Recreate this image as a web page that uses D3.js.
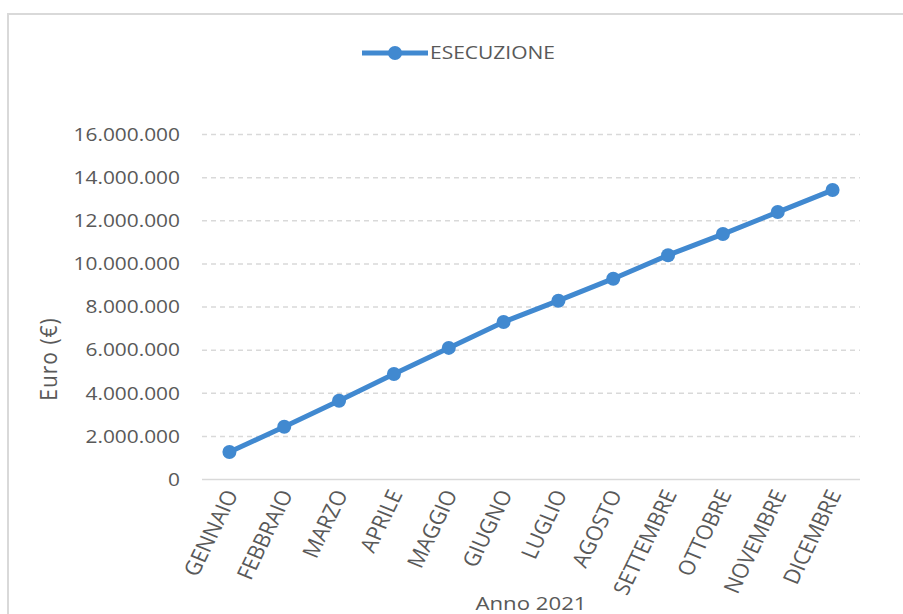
<!DOCTYPE html>
<meta charset="utf-8">
<style>
body { margin: 0; background: #fff; }
svg { display: block; }
text { font-family: "Open Sans", sans-serif; fill: #595959; }
.grid line { stroke: #d9d9d9; stroke-width: 1.5px; stroke-dasharray: 5,4; }
.grid .domain { display: none; }
.xaxis .domain, .xaxis line { display: none; }
.line { fill: none; stroke: #4189d0; stroke-width: 5px; stroke-linejoin: round; }
.dot { fill: #4189d0; }
</style>
<svg width="903" height="614"></svg>
<script src="https://cdnjs.cloudflare.com/ajax/libs/d3/7.8.5/d3.min.js"></script>
<script>
var months = ["GENNAIO", "FEBBRAIO", "MARZO", "APRILE", "MAGGIO", "GIUGNO",
              "LUGLIO", "AGOSTO", "SETTEMBRE", "OTTOBRE", "NOVEMBRE", "DICEMBRE"];
var esecuzione = [1250000, 2420000, 3630000, 4870000, 6080000, 7280000,
                  8270000, 9290000, 10380000, 11360000, 12380000, 13400000];
var yTicks = [0, 2000000, 4000000, 6000000, 8000000, 10000000, 12000000, 14000000, 16000000];
var seriesName = "ESECUZIONE";

var svg = d3.select("svg");
var stretch = 1.2; // the source picture is a bit wider than tall

// chart area border
svg.append("rect")
    .attr("x", 8).attr("y", 14)
    .attr("width", 1000).attr("height", 1000)
    .attr("fill", "none")
    .attr("stroke", "#d9d9d9")
    .attr("stroke-width", 2);

var x = d3.scaleBand().domain(months).range([202, 860]);
var y = d3.scaleLinear().domain([0, 16000000]).range([479, 134]);

var fmt = function(v) { return d3.format(",")(v).replace(/,/g, "."); };

// gridlines + y labels
var grid = svg.append("g")
    .attr("class", "grid")
    .attr("transform", "translate(202,0)")
    .call(d3.axisLeft(y).tickValues(yTicks).tickSize(-658).tickFormat(fmt));

grid.selectAll(".tick line")
    .style("stroke-dasharray", function(d) { return d === 0 ? "none" : null; });

grid.selectAll(".tick text")
    .attr("x", 0)
    .attr("dy", "0.35em")
    .attr("transform", "translate(-22,0) scale(1.16,1)")
    .style("font-size", "18px")
    .style("fill", "#595959");

// x labels
var xa = svg.append("g")
    .attr("class", "xaxis")
    .attr("transform", "translate(0,479)")
    .call(d3.axisBottom(x).tickSize(0));

xa.selectAll(".tick text")
    .attr("x", 0).attr("y", 0).attr("dy", "0.35em")
    .style("text-anchor", "end")
    .style("font-size", "20.5px")
    .style("fill", "#595959")
    .attr("transform", "translate(2,12) scale(1.1,1) rotate(-66)");

// axis titles
svg.append("text")
    .attr("transform", "translate(57,359) scale(1.1,1) rotate(-90)")
    .attr("text-anchor", "middle")
    .style("font-size", "21px")
    .style("letter-spacing", "1px")
    .text("Euro (€)");

svg.append("text")
    .attr("transform", "translate(531,610) scale(" + stretch + ",1)")
    .attr("text-anchor", "middle")
    .style("font-size", "18.5px")
    .text("Anno 2021");

// series
var line = d3.line()
    .x(function(d, i) { return x(months[i]) + x.bandwidth() / 2; })
    .y(function(d) { return y(d); });

svg.append("path")
    .datum(esecuzione)
    .attr("class", "line")
    .attr("d", line);

svg.selectAll(".dot")
    .data(esecuzione)
    .enter().append("circle")
    .attr("class", "dot")
    .attr("cx", function(d, i) { return x(months[i]) + x.bandwidth() / 2; })
    .attr("cy", function(d) { return y(d); })
    .attr("r", 7);

// legend
var lg = svg.append("g").attr("transform", "translate(362,53)");
lg.append("line")
    .attr("x1", 0).attr("x2", 66)
    .attr("stroke", "#4189d0").attr("stroke-width", 5);
lg.append("circle").attr("cx", 33).attr("r", 7).attr("fill", "#4189d0");
lg.append("text")
    .attr("transform", "translate(68,0) scale(" + stretch + ",1)")
    .attr("dy", "0.35em")
    .style("font-size", "17.5px")
    .text(seriesName);
</script>
